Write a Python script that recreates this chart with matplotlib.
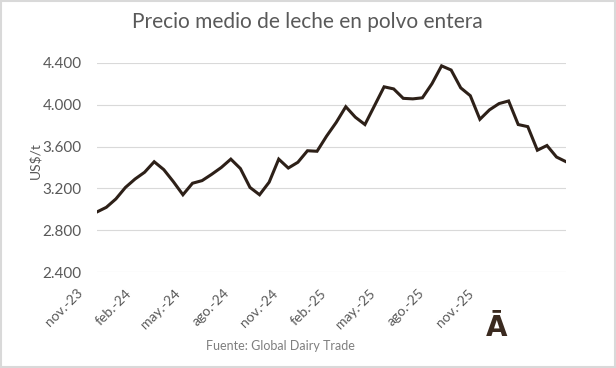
import numpy as np
import matplotlib
matplotlib.use("Agg")
import matplotlib.pyplot as plt
from matplotlib.transforms import ScaledTranslation
from matplotlib.patches import Rectangle

# Precio medio de leche en polvo entera (US$/t), subastas GDT
precios = [2975, 3020, 3100, 3210, 3290, 3355, 3455, 3380, 3265, 3140,
           3250, 3275, 3335, 3400, 3480, 3390, 3210, 3140, 3260, 3480,
           3395, 3450, 3560, 3555, 3700, 3830, 3980, 3880, 3810, 3990,
           4170, 4150, 4060, 4055, 4065, 4200, 4370, 4330, 4160, 4085,
           3860, 3950, 4010, 4035, 3810, 3790, 3565, 3610, 3500, 3455]
etiquetas_x = ["nov.-23", "feb.-24", "may.-24", "ago.-24", "nov.-24",
               "feb.-25", "may.-25", "ago.-25", "nov.-25"]
ticks_y = [2400, 2800, 3200, 3600, 4000, 4400]

plt.rcParams['font.family'] = ['Lato', 'DejaVu Sans']
gris = '#595959'

fig = plt.figure(figsize=(6.16, 3.68), dpi=100)
ax = fig.add_axes([0.157, 0.260, 0.762, 0.5696])

x = np.arange(len(precios))
ax.plot(x, precios, color='#2d2018', lw=2.2, solid_joinstyle='miter')

ax.set_xlim(0, len(precios) - 1)
ax.set_ylim(2400, 4400)
ax.set_yticks(ticks_y)
ax.set_yticklabels([f"{v:,}".replace(",", ".") for v in ticks_y])
ax.grid(axis='y', color='#d9d9d9', lw=0.8)
ax.set_axisbelow(True)
for s in ax.spines.values():
    s.set_visible(False)

ax.set_xticks(np.arange(len(etiquetas_x)) * 5.1)
ax.set_xticklabels(etiquetas_x, rotation=45, ha='right', va='top')
ax.tick_params(axis='x', length=0, pad=10.5, labelsize=10, labelcolor=gris)
ax.tick_params(axis='y', length=0, pad=10.8, labelsize=11, labelcolor=gris)
desplaza = ScaledTranslation(-0.12, 0, fig.dpi_scale_trans)
for lab in ax.get_xticklabels():
    lab.set_transform(lab.get_transform() + desplaza)

fig.text(0.4995, 0.940, "Precio medio de leche en polvo entera", ha='center', va='center',
         fontsize=15, color=gris)
fig.text(0.057, 0.565, "US$/t", rotation=90, ha='center', va='center', fontsize=10, color=gris)
fig.text(0.456, 0.059, "Fuente: Global Dairy Trade", ha='center', va='center', fontsize=9, color='#7f7f7f')
fig.text(0.806, 0.108, "Ā", ha='center', va='center', fontsize=20, fontweight='bold',
         color='#3a2a1f', family=['Liberation Sans Narrow', 'DejaVu Sans'])

fig.patches.append(Rectangle((0.001, 0.002), 0.997, 0.996, transform=fig.transFigure,
                             fill=False, ec='#d9d9d9', lw=1.5))

fig.savefig("out.png", dpi=100)
